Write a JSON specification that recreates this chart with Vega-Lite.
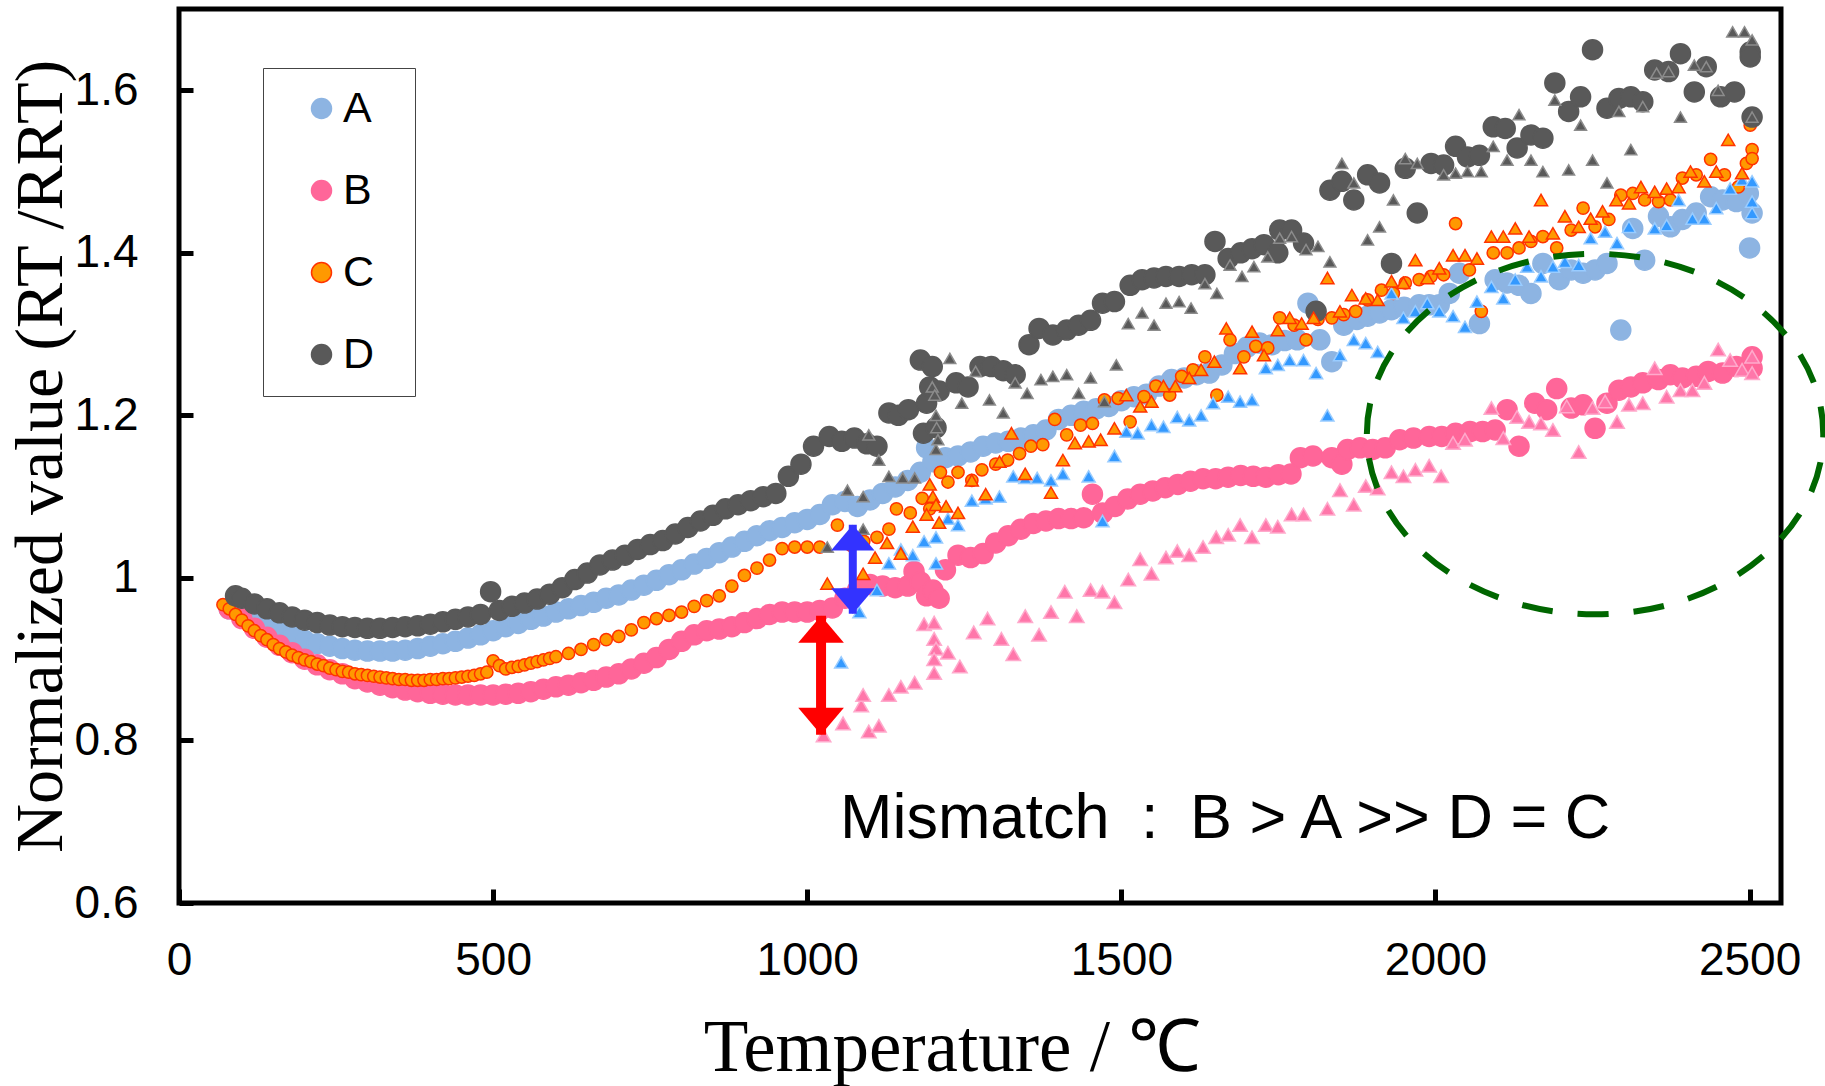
{
"$schema": "https://vega.github.io/schema/vega-lite/v6.json",
"width": 1602, "height": 894,
"autosize": {"type": "none"},
"padding": {"left": 179, "top": 9, "right": 44, "bottom": 183},
"background": "white",
"config": {"view": {"stroke": "#000", "strokeWidth": 5}},
"datasets": {
"pts": [
{"s":"A","x":80,"y":0.962},{"s":"A","x":100,"y":0.955},{"s":"A","x":120,"y":0.947},{"s":"A","x":140,"y":0.94},{"s":"A","x":160,"y":0.934},{"s":"A","x":180,"y":0.928},{"s":"A","x":200,"y":0.923},{"s":"A","x":220,"y":0.919},{"s":"A","x":240,"y":0.916},{"s":"A","x":260,"y":0.913},{"s":"A","x":280,"y":0.911},{"s":"A","x":300,"y":0.91},{"s":"A","x":320,"y":0.91},{"s":"A","x":340,"y":0.91},{"s":"A","x":360,"y":0.911},{"s":"A","x":380,"y":0.913},{"s":"A","x":400,"y":0.916},{"s":"A","x":420,"y":0.919},{"s":"A","x":440,"y":0.922},{"s":"A","x":460,"y":0.926},{"s":"A","x":480,"y":0.93},{"s":"A","x":500,"y":0.935},{"s":"A","x":520,"y":0.94},{"s":"A","x":540,"y":0.944},{"s":"A","x":560,"y":0.949},{"s":"A","x":580,"y":0.953},{"s":"A","x":600,"y":0.958},{"s":"A","x":620,"y":0.962},{"s":"A","x":640,"y":0.966},{"s":"A","x":660,"y":0.97},{"s":"A","x":680,"y":0.975},{"s":"A","x":700,"y":0.979},{"s":"A","x":720,"y":0.985},{"s":"A","x":740,"y":0.991},{"s":"A","x":760,"y":0.997},{"s":"A","x":780,"y":1.004},{"s":"A","x":800,"y":1.01},{"s":"A","x":820,"y":1.017},{"s":"A","x":840,"y":1.024},{"s":"A","x":860,"y":1.031},{"s":"A","x":880,"y":1.038},{"s":"A","x":900,"y":1.045},{"s":"A","x":920,"y":1.052},{"s":"A","x":940,"y":1.058},{"s":"A","x":960,"y":1.062},{"s":"A","x":980,"y":1.068},{"s":"A","x":1000,"y":1.072},{"s":"A","x":1020,"y":1.078},{"s":"A","x":1040,"y":1.09},{"s":"A","x":1060,"y":1.094},{"s":"A","x":1080,"y":1.088},{"s":"A","x":1100,"y":1.096},{"s":"A","x":1120,"y":1.104},{"s":"A","x":1140,"y":1.112},{"s":"A","x":1160,"y":1.12},{"s":"A","x":1180,"y":1.13},{"s":"A","x":1190,"y":1.16},{"s":"A","x":1200,"y":1.143},{"s":"A","x":1220,"y":1.148},{"s":"A","x":1240,"y":1.15},{"s":"A","x":1260,"y":1.155},{"s":"A","x":1280,"y":1.162},{"s":"A","x":1300,"y":1.166},{"s":"A","x":1320,"y":1.168},{"s":"A","x":1340,"y":1.172},{"s":"A","x":1360,"y":1.176},{"s":"A","x":1380,"y":1.182},{"s":"A","x":1400,"y":1.195},{"s":"A","x":1420,"y":1.2},{"s":"A","x":1440,"y":1.205},{"s":"A","x":1460,"y":1.208},{"s":"A","x":1480,"y":1.211},{"s":"A","x":1500,"y":1.218},{"s":"A","x":1520,"y":1.223},{"s":"A","x":1540,"y":1.226},{"s":"A","x":1560,"y":1.236},{"s":"A","x":1580,"y":1.244},{"s":"A","x":1600,"y":1.246},{"s":"A","x":1620,"y":1.25},{"s":"A","x":1640,"y":1.252},{"s":"A","x":1660,"y":1.262},{"s":"A","x":1680,"y":1.276},{"s":"A","x":1700,"y":1.284},{"s":"A","x":1720,"y":1.289},{"s":"A","x":1740,"y":1.287},{"s":"A","x":1760,"y":1.292},{"s":"A","x":1780,"y":1.293},{"s":"A","x":1797,"y":1.338},{"s":"A","x":1816,"y":1.293},{"s":"A","x":1835,"y":1.266},{"s":"A","x":1854,"y":1.311},{"s":"A","x":1875,"y":1.318},{"s":"A","x":1892,"y":1.322},{"s":"A","x":1911,"y":1.326},{"s":"A","x":1930,"y":1.33},{"s":"A","x":1950,"y":1.333},{"s":"A","x":1974,"y":1.336},{"s":"A","x":1990,"y":1.336},{"s":"A","x":2006,"y":1.336},{"s":"A","x":2022,"y":1.35},{"s":"A","x":2038,"y":1.375},{"s":"A","x":2070,"y":1.313},{"s":"A","x":2095,"y":1.367},{"s":"A","x":2114,"y":1.363},{"s":"A","x":2133,"y":1.36},{"s":"A","x":2152,"y":1.35},{"s":"A","x":2171,"y":1.387},{"s":"A","x":2197,"y":1.367},{"s":"A","x":2216,"y":1.379},{"s":"A","x":2235,"y":1.375},{"s":"A","x":2254,"y":1.379},{"s":"A","x":2273,"y":1.387},{"s":"A","x":2295,"y":1.305},{"s":"A","x":2314,"y":1.43},{"s":"A","x":2333,"y":1.391},{"s":"A","x":2355,"y":1.445},{"s":"A","x":2374,"y":1.432},{"s":"A","x":2393,"y":1.441},{"s":"A","x":2415,"y":1.449},{"s":"A","x":2438,"y":1.469},{"s":"A","x":2457,"y":1.465},{"s":"A","x":2479,"y":1.463},{"s":"A","x":2498,"y":1.473},{"s":"A","x":2504,"y":1.449},{"s":"A","x":2500,"y":1.406},
{"s":"B","x":80,"y":0.962},{"s":"B","x":100,"y":0.95},{"s":"B","x":120,"y":0.938},{"s":"B","x":140,"y":0.927},{"s":"B","x":160,"y":0.917},{"s":"B","x":180,"y":0.908},{"s":"B","x":200,"y":0.9},{"s":"B","x":220,"y":0.893},{"s":"B","x":240,"y":0.887},{"s":"B","x":260,"y":0.882},{"s":"B","x":280,"y":0.876},{"s":"B","x":300,"y":0.872},{"s":"B","x":320,"y":0.868},{"s":"B","x":340,"y":0.865},{"s":"B","x":360,"y":0.862},{"s":"B","x":380,"y":0.86},{"s":"B","x":400,"y":0.858},{"s":"B","x":420,"y":0.857},{"s":"B","x":440,"y":0.856},{"s":"B","x":460,"y":0.856},{"s":"B","x":480,"y":0.856},{"s":"B","x":500,"y":0.856},{"s":"B","x":520,"y":0.857},{"s":"B","x":540,"y":0.858},{"s":"B","x":560,"y":0.86},{"s":"B","x":580,"y":0.863},{"s":"B","x":600,"y":0.866},{"s":"B","x":620,"y":0.868},{"s":"B","x":640,"y":0.871},{"s":"B","x":660,"y":0.874},{"s":"B","x":680,"y":0.878},{"s":"B","x":700,"y":0.882},{"s":"B","x":720,"y":0.888},{"s":"B","x":740,"y":0.895},{"s":"B","x":760,"y":0.902},{"s":"B","x":780,"y":0.912},{"s":"B","x":800,"y":0.922},{"s":"B","x":820,"y":0.93},{"s":"B","x":840,"y":0.935},{"s":"B","x":860,"y":0.937},{"s":"B","x":880,"y":0.94},{"s":"B","x":900,"y":0.945},{"s":"B","x":920,"y":0.95},{"s":"B","x":940,"y":0.955},{"s":"B","x":960,"y":0.958},{"s":"B","x":980,"y":0.958},{"s":"B","x":1000,"y":0.958},{"s":"B","x":1020,"y":0.96},{"s":"B","x":1040,"y":0.963},{"s":"B","x":1060,"y":0.975},{"s":"B","x":1080,"y":0.985},{"s":"B","x":1100,"y":0.992},{"s":"B","x":1120,"y":0.99},{"s":"B","x":1140,"y":0.988},{"s":"B","x":1160,"y":0.99},{"s":"B","x":1170,"y":1.008},{"s":"B","x":1180,"y":0.995},{"s":"B","x":1190,"y":0.978},{"s":"B","x":1200,"y":0.985},{"s":"B","x":1210,"y":0.975},{"s":"B","x":1220,"y":1.01},{"s":"B","x":1240,"y":1.028},{"s":"B","x":1260,"y":1.025},{"s":"B","x":1280,"y":1.03},{"s":"B","x":1300,"y":1.043},{"s":"B","x":1320,"y":1.052},{"s":"B","x":1340,"y":1.06},{"s":"B","x":1360,"y":1.067},{"s":"B","x":1380,"y":1.07},{"s":"B","x":1400,"y":1.073},{"s":"B","x":1420,"y":1.073},{"s":"B","x":1440,"y":1.074},{"s":"B","x":1454,"y":1.103},{"s":"B","x":1470,"y":1.08},{"s":"B","x":1490,"y":1.088},{"s":"B","x":1510,"y":1.097},{"s":"B","x":1530,"y":1.103},{"s":"B","x":1550,"y":1.107},{"s":"B","x":1570,"y":1.111},{"s":"B","x":1590,"y":1.115},{"s":"B","x":1610,"y":1.119},{"s":"B","x":1630,"y":1.122},{"s":"B","x":1650,"y":1.122},{"s":"B","x":1670,"y":1.124},{"s":"B","x":1690,"y":1.126},{"s":"B","x":1710,"y":1.125},{"s":"B","x":1730,"y":1.124},{"s":"B","x":1750,"y":1.127},{"s":"B","x":1770,"y":1.128},{"s":"B","x":1785,"y":1.148},{"s":"B","x":1805,"y":1.15},{"s":"B","x":1835,"y":1.148},{"s":"B","x":1851,"y":1.14},{"s":"B","x":1860,"y":1.158},{"s":"B","x":1880,"y":1.16},{"s":"B","x":1900,"y":1.158},{"s":"B","x":1920,"y":1.16},{"s":"B","x":1943,"y":1.17},{"s":"B","x":1965,"y":1.172},{"s":"B","x":1990,"y":1.174},{"s":"B","x":2010,"y":1.174},{"s":"B","x":2032,"y":1.178},{"s":"B","x":2055,"y":1.18},{"s":"B","x":2075,"y":1.18},{"s":"B","x":2095,"y":1.182},{"s":"B","x":2114,"y":1.207},{"s":"B","x":2133,"y":1.162},{"s":"B","x":2158,"y":1.215},{"s":"B","x":2177,"y":1.207},{"s":"B","x":2193,"y":1.233},{"s":"B","x":2216,"y":1.209},{"s":"B","x":2235,"y":1.213},{"s":"B","x":2254,"y":1.184},{"s":"B","x":2273,"y":1.215},{"s":"B","x":2292,"y":1.231},{"s":"B","x":2311,"y":1.235},{"s":"B","x":2330,"y":1.24},{"s":"B","x":2355,"y":1.244},{"s":"B","x":2374,"y":1.25},{"s":"B","x":2393,"y":1.246},{"s":"B","x":2415,"y":1.248},{"s":"B","x":2434,"y":1.254},{"s":"B","x":2457,"y":1.252},{"s":"B","x":2479,"y":1.26},{"s":"B","x":2504,"y":1.272},{"s":"B","x":2504,"y":1.258},
{"s":"C","x":70,"y":0.967},{"s":"C","x":80,"y":0.962},{"s":"C","x":90,"y":0.955},{"s":"C","x":100,"y":0.948},{"s":"C","x":110,"y":0.941},{"s":"C","x":120,"y":0.935},{"s":"C","x":130,"y":0.929},{"s":"C","x":140,"y":0.924},{"s":"C","x":150,"y":0.918},{"s":"C","x":160,"y":0.913},{"s":"C","x":170,"y":0.909},{"s":"C","x":180,"y":0.905},{"s":"C","x":190,"y":0.902},{"s":"C","x":200,"y":0.899},{"s":"C","x":210,"y":0.897},{"s":"C","x":220,"y":0.894},{"s":"C","x":230,"y":0.892},{"s":"C","x":240,"y":0.889},{"s":"C","x":250,"y":0.887},{"s":"C","x":260,"y":0.885},{"s":"C","x":270,"y":0.884},{"s":"C","x":280,"y":0.882},{"s":"C","x":290,"y":0.881},{"s":"C","x":300,"y":0.88},{"s":"C","x":310,"y":0.879},{"s":"C","x":320,"y":0.878},{"s":"C","x":330,"y":0.877},{"s":"C","x":340,"y":0.876},{"s":"C","x":350,"y":0.875},{"s":"C","x":360,"y":0.875},{"s":"C","x":370,"y":0.874},{"s":"C","x":380,"y":0.874},{"s":"C","x":390,"y":0.874},{"s":"C","x":400,"y":0.875},{"s":"C","x":410,"y":0.875},{"s":"C","x":420,"y":0.876},{"s":"C","x":430,"y":0.876},{"s":"C","x":440,"y":0.877},{"s":"C","x":450,"y":0.878},{"s":"C","x":460,"y":0.879},{"s":"C","x":470,"y":0.88},{"s":"C","x":480,"y":0.882},{"s":"C","x":490,"y":0.884},{"s":"C","x":500,"y":0.898},{"s":"C","x":510,"y":0.892},{"s":"C","x":520,"y":0.888},{"s":"C","x":530,"y":0.89},{"s":"C","x":540,"y":0.891},{"s":"C","x":550,"y":0.893},{"s":"C","x":560,"y":0.895},{"s":"C","x":570,"y":0.897},{"s":"C","x":580,"y":0.899},{"s":"C","x":590,"y":0.901},{"s":"C","x":600,"y":0.903},{"s":"C","x":620,"y":0.907},{"s":"C","x":640,"y":0.912},{"s":"C","x":660,"y":0.918},{"s":"C","x":680,"y":0.924},{"s":"C","x":700,"y":0.928},{"s":"C","x":720,"y":0.936},{"s":"C","x":740,"y":0.945},{"s":"C","x":760,"y":0.95},{"s":"C","x":780,"y":0.954},{"s":"C","x":800,"y":0.958},{"s":"C","x":820,"y":0.965},{"s":"C","x":840,"y":0.972},{"s":"C","x":860,"y":0.978},{"s":"C","x":880,"y":0.99},{"s":"C","x":900,"y":1.003},{"s":"C","x":920,"y":1.012},{"s":"C","x":940,"y":1.022},{"s":"C","x":960,"y":1.036},{"s":"C","x":980,"y":1.038},{"s":"C","x":1000,"y":1.038},{"s":"C","x":1020,"y":1.038},{"s":"C","x":1048,"y":1.065},{"s":"C","x":1070,"y":1.04},{"s":"C","x":1090,"y":1.045},{"s":"C","x":1111,"y":1.05},{"s":"C","x":1130,"y":1.06},{"s":"C","x":1142,"y":1.085},{"s":"C","x":1164,"y":1.08},{"s":"C","x":1183,"y":1.098},{"s":"C","x":1195,"y":1.085},{"s":"C","x":1212,"y":1.13},{"s":"C","x":1224,"y":1.118},{"s":"C","x":1240,"y":1.13},{"s":"C","x":1262,"y":1.12},{"s":"C","x":1278,"y":1.133},{"s":"C","x":1300,"y":1.14},{"s":"C","x":1319,"y":1.145},{"s":"C","x":1338,"y":1.153},{"s":"C","x":1356,"y":1.162},{"s":"C","x":1375,"y":1.164},{"s":"C","x":1394,"y":1.195},{"s":"C","x":1413,"y":1.176},{"s":"C","x":1435,"y":1.188},{"s":"C","x":1454,"y":1.19},{"s":"C","x":1473,"y":1.219},{"s":"C","x":1495,"y":1.221},{"s":"C","x":1514,"y":1.192},{"s":"C","x":1536,"y":1.223},{"s":"C","x":1555,"y":1.236},{"s":"C","x":1577,"y":1.225},{"s":"C","x":1596,"y":1.248},{"s":"C","x":1614,"y":1.256},{"s":"C","x":1633,"y":1.272},{"s":"C","x":1652,"y":1.225},{"s":"C","x":1673,"y":1.293},{"s":"C","x":1695,"y":1.272},{"s":"C","x":1714,"y":1.285},{"s":"C","x":1733,"y":1.283},{"s":"C","x":1752,"y":1.32},{"s":"C","x":1775,"y":1.311},{"s":"C","x":1794,"y":1.293},{"s":"C","x":1813,"y":1.318},{"s":"C","x":1835,"y":1.32},{"s":"C","x":1854,"y":1.324},{"s":"C","x":1873,"y":1.328},{"s":"C","x":1892,"y":1.342},{"s":"C","x":1914,"y":1.354},{"s":"C","x":1933,"y":1.35},{"s":"C","x":1952,"y":1.363},{"s":"C","x":1974,"y":1.367},{"s":"C","x":1993,"y":1.371},{"s":"C","x":2013,"y":1.373},{"s":"C","x":2032,"y":1.436},{"s":"C","x":2054,"y":1.379},{"s":"C","x":2073,"y":1.328},{"s":"C","x":2092,"y":1.4},{"s":"C","x":2114,"y":1.4},{"s":"C","x":2133,"y":1.406},{"s":"C","x":2152,"y":1.414},{"s":"C","x":2171,"y":1.42},{"s":"C","x":2193,"y":1.406},{"s":"C","x":2216,"y":1.428},{"s":"C","x":2235,"y":1.455},{"s":"C","x":2254,"y":1.432},{"s":"C","x":2276,"y":1.441},{"s":"C","x":2295,"y":1.471},{"s":"C","x":2314,"y":1.473},{"s":"C","x":2333,"y":1.465},{"s":"C","x":2355,"y":1.463},{"s":"C","x":2374,"y":1.465},{"s":"C","x":2393,"y":1.492},{"s":"C","x":2415,"y":1.496},{"s":"C","x":2438,"y":1.515},{"s":"C","x":2460,"y":1.496},{"s":"C","x":2482,"y":1.481},{"s":"C","x":2495,"y":1.51},{"s":"C","x":2504,"y":1.527},{"s":"C","x":2504,"y":1.516},{"s":"C","x":2501,"y":1.557},
{"s":"D","x":90,"y":0.978},{"s":"D","x":100,"y":0.975},{"s":"D","x":120,"y":0.968},{"s":"D","x":140,"y":0.962},{"s":"D","x":160,"y":0.957},{"s":"D","x":180,"y":0.952},{"s":"D","x":200,"y":0.948},{"s":"D","x":220,"y":0.945},{"s":"D","x":240,"y":0.942},{"s":"D","x":260,"y":0.94},{"s":"D","x":280,"y":0.939},{"s":"D","x":300,"y":0.938},{"s":"D","x":320,"y":0.938},{"s":"D","x":340,"y":0.939},{"s":"D","x":360,"y":0.94},{"s":"D","x":380,"y":0.941},{"s":"D","x":400,"y":0.943},{"s":"D","x":420,"y":0.946},{"s":"D","x":440,"y":0.949},{"s":"D","x":460,"y":0.952},{"s":"D","x":480,"y":0.955},{"s":"D","x":496,"y":0.983},{"s":"D","x":510,"y":0.96},{"s":"D","x":530,"y":0.965},{"s":"D","x":550,"y":0.969},{"s":"D","x":570,"y":0.974},{"s":"D","x":590,"y":0.98},{"s":"D","x":610,"y":0.988},{"s":"D","x":630,"y":0.998},{"s":"D","x":650,"y":1.006},{"s":"D","x":670,"y":1.016},{"s":"D","x":690,"y":1.022},{"s":"D","x":710,"y":1.028},{"s":"D","x":730,"y":1.035},{"s":"D","x":750,"y":1.041},{"s":"D","x":770,"y":1.046},{"s":"D","x":790,"y":1.054},{"s":"D","x":810,"y":1.062},{"s":"D","x":830,"y":1.07},{"s":"D","x":850,"y":1.077},{"s":"D","x":870,"y":1.085},{"s":"D","x":890,"y":1.09},{"s":"D","x":910,"y":1.095},{"s":"D","x":930,"y":1.1},{"s":"D","x":950,"y":1.104},{"s":"D","x":970,"y":1.125},{"s":"D","x":990,"y":1.14},{"s":"D","x":1010,"y":1.162},{"s":"D","x":1035,"y":1.174},{"s":"D","x":1055,"y":1.168},{"s":"D","x":1075,"y":1.172},{"s":"D","x":1095,"y":1.165},{"s":"D","x":1111,"y":1.162},{"s":"D","x":1130,"y":1.203},{"s":"D","x":1145,"y":1.2},{"s":"D","x":1161,"y":1.207},{"s":"D","x":1180,"y":1.268},{"s":"D","x":1185,"y":1.178},{"s":"D","x":1190,"y":1.215},{"s":"D","x":1195,"y":1.235},{"s":"D","x":1199,"y":1.26},{"s":"D","x":1205,"y":1.185},{"s":"D","x":1210,"y":1.23},{"s":"D","x":1237,"y":1.24},{"s":"D","x":1256,"y":1.235},{"s":"D","x":1275,"y":1.26},{"s":"D","x":1293,"y":1.26},{"s":"D","x":1312,"y":1.255},{"s":"D","x":1331,"y":1.25},{"s":"D","x":1353,"y":1.287},{"s":"D","x":1369,"y":1.307},{"s":"D","x":1391,"y":1.299},{"s":"D","x":1413,"y":1.305},{"s":"D","x":1432,"y":1.311},{"s":"D","x":1451,"y":1.317},{"s":"D","x":1470,"y":1.338},{"s":"D","x":1489,"y":1.34},{"s":"D","x":1514,"y":1.36},{"s":"D","x":1533,"y":1.367},{"s":"D","x":1552,"y":1.369},{"s":"D","x":1571,"y":1.371},{"s":"D","x":1592,"y":1.371},{"s":"D","x":1612,"y":1.373},{"s":"D","x":1633,"y":1.373},{"s":"D","x":1649,"y":1.414},{"s":"D","x":1670,"y":1.393},{"s":"D","x":1690,"y":1.4},{"s":"D","x":1708,"y":1.405},{"s":"D","x":1727,"y":1.41},{"s":"D","x":1749,"y":1.4},{"s":"D","x":1752,"y":1.428},{"s":"D","x":1771,"y":1.428},{"s":"D","x":1790,"y":1.412},{"s":"D","x":1810,"y":1.328},{"s":"D","x":1832,"y":1.477},{"s":"D","x":1851,"y":1.488},{"s":"D","x":1870,"y":1.465},{"s":"D","x":1892,"y":1.496},{"s":"D","x":1911,"y":1.486},{"s":"D","x":1930,"y":1.387},{"s":"D","x":1952,"y":1.504},{"s":"D","x":1971,"y":1.449},{"s":"D","x":1993,"y":1.51},{"s":"D","x":2013,"y":1.508},{"s":"D","x":2032,"y":1.531},{"s":"D","x":2051,"y":1.518},{"s":"D","x":2070,"y":1.52},{"s":"D","x":2092,"y":1.555},{"s":"D","x":2111,"y":1.553},{"s":"D","x":2130,"y":1.529},{"s":"D","x":2152,"y":1.545},{"s":"D","x":2171,"y":1.541},{"s":"D","x":2190,"y":1.609},{"s":"D","x":2212,"y":1.574},{"s":"D","x":2231,"y":1.592},{"s":"D","x":2250,"y":1.65},{"s":"D","x":2273,"y":1.578},{"s":"D","x":2292,"y":1.59},{"s":"D","x":2311,"y":1.592},{"s":"D","x":2330,"y":1.586},{"s":"D","x":2349,"y":1.625},{"s":"D","x":2371,"y":1.623},{"s":"D","x":2390,"y":1.645},{"s":"D","x":2412,"y":1.598},{"s":"D","x":2431,"y":1.629},{"s":"D","x":2454,"y":1.592},{"s":"D","x":2476,"y":1.598},{"s":"D","x":2501,"y":1.647},{"s":"D","x":2501,"y":1.641},{"s":"D","x":2504,"y":1.567},
{"s":"At","x":1054,"y":0.896},{"s":"At","x":1083,"y":0.958},{"s":"At","x":1111,"y":0.985},{"s":"At","x":1130,"y":1.018},{"s":"At","x":1149,"y":1.035},{"s":"At","x":1168,"y":1.028},{"s":"At","x":1186,"y":1.045},{"s":"At","x":1205,"y":1.05},{"s":"At","x":1205,"y":1.018},{"s":"At","x":1224,"y":1.073},{"s":"At","x":1240,"y":1.065},{"s":"At","x":1262,"y":1.095},{"s":"At","x":1284,"y":1.098},{"s":"At","x":1306,"y":1.1},{"s":"At","x":1328,"y":1.125},{"s":"At","x":1347,"y":1.123},{"s":"At","x":1366,"y":1.123},{"s":"At","x":1388,"y":1.12},{"s":"At","x":1407,"y":1.128},{"s":"At","x":1448,"y":1.125},{"s":"At","x":1470,"y":1.07},{"s":"At","x":1489,"y":1.15},{"s":"At","x":1508,"y":1.18},{"s":"At","x":1526,"y":1.178},{"s":"At","x":1548,"y":1.188},{"s":"At","x":1567,"y":1.186},{"s":"At","x":1589,"y":1.198},{"s":"At","x":1608,"y":1.194},{"s":"At","x":1627,"y":1.2},{"s":"At","x":1646,"y":1.215},{"s":"At","x":1670,"y":1.223},{"s":"At","x":1689,"y":1.217},{"s":"At","x":1708,"y":1.219},{"s":"At","x":1730,"y":1.258},{"s":"At","x":1749,"y":1.262},{"s":"At","x":1768,"y":1.268},{"s":"At","x":1790,"y":1.268},{"s":"At","x":1810,"y":1.252},{"s":"At","x":1828,"y":1.2},{"s":"At","x":1848,"y":1.274},{"s":"At","x":1870,"y":1.293},{"s":"At","x":1889,"y":1.289},{"s":"At","x":1908,"y":1.278},{"s":"At","x":1930,"y":1.35},{"s":"At","x":1949,"y":1.32},{"s":"At","x":1968,"y":1.328},{"s":"At","x":1987,"y":1.338},{"s":"At","x":2006,"y":1.328},{"s":"At","x":2028,"y":1.322},{"s":"At","x":2047,"y":1.309},{"s":"At","x":2066,"y":1.34},{"s":"At","x":2089,"y":1.358},{"s":"At","x":2108,"y":1.344},{"s":"At","x":2127,"y":1.367},{"s":"At","x":2146,"y":1.383},{"s":"At","x":2168,"y":1.371},{"s":"At","x":2187,"y":1.383},{"s":"At","x":2206,"y":1.389},{"s":"At","x":2228,"y":1.385},{"s":"At","x":2247,"y":1.418},{"s":"At","x":2270,"y":1.426},{"s":"At","x":2289,"y":1.412},{"s":"At","x":2308,"y":1.432},{"s":"At","x":2349,"y":1.43},{"s":"At","x":2368,"y":1.434},{"s":"At","x":2387,"y":1.465},{"s":"At","x":2409,"y":1.442},{"s":"At","x":2428,"y":1.442},{"s":"At","x":2447,"y":1.455},{"s":"At","x":2469,"y":1.479},{"s":"At","x":2488,"y":1.49},{"s":"At","x":2504,"y":1.488},{"s":"At","x":2504,"y":1.463},{"s":"At","x":2504,"y":1.449},
{"s":"Bt","x":1026,"y":0.806},{"s":"Bt","x":1057,"y":0.821},{"s":"Bt","x":1086,"y":0.843},{"s":"Bt","x":1089,"y":0.856},{"s":"Bt","x":1098,"y":0.811},{"s":"Bt","x":1114,"y":0.818},{"s":"Bt","x":1130,"y":0.856},{"s":"Bt","x":1149,"y":0.866},{"s":"Bt","x":1171,"y":0.871},{"s":"Bt","x":1186,"y":0.943},{"s":"Bt","x":1202,"y":0.945},{"s":"Bt","x":1202,"y":0.925},{"s":"Bt","x":1205,"y":0.913},{"s":"Bt","x":1202,"y":0.9},{"s":"Bt","x":1202,"y":0.883},{"s":"Bt","x":1224,"y":0.908},{"s":"Bt","x":1243,"y":0.891},{"s":"Bt","x":1265,"y":0.933},{"s":"Bt","x":1287,"y":0.95},{"s":"Bt","x":1309,"y":0.925},{"s":"Bt","x":1328,"y":0.906},{"s":"Bt","x":1347,"y":0.953},{"s":"Bt","x":1369,"y":0.93},{"s":"Bt","x":1388,"y":0.958},{"s":"Bt","x":1410,"y":0.983},{"s":"Bt","x":1429,"y":0.953},{"s":"Bt","x":1451,"y":0.985},{"s":"Bt","x":1470,"y":0.983},{"s":"Bt","x":1489,"y":0.97},{"s":"Bt","x":1511,"y":0.998},{"s":"Bt","x":1530,"y":1.023},{"s":"Bt","x":1548,"y":1.005},{"s":"Bt","x":1571,"y":1.025},{"s":"Bt","x":1589,"y":1.033},{"s":"Bt","x":1608,"y":1.028},{"s":"Bt","x":1630,"y":1.038},{"s":"Bt","x":1651,"y":1.05},{"s":"Bt","x":1670,"y":1.053},{"s":"Bt","x":1689,"y":1.065},{"s":"Bt","x":1708,"y":1.05},{"s":"Bt","x":1730,"y":1.065},{"s":"Bt","x":1749,"y":1.063},{"s":"Bt","x":1771,"y":1.078},{"s":"Bt","x":1790,"y":1.078},{"s":"Bt","x":1828,"y":1.085},{"s":"Bt","x":1848,"y":1.108},{"s":"Bt","x":1870,"y":1.09},{"s":"Bt","x":1889,"y":1.113},{"s":"Bt","x":1908,"y":1.11},{"s":"Bt","x":1930,"y":1.13},{"s":"Bt","x":1949,"y":1.125},{"s":"Bt","x":1968,"y":1.133},{"s":"Bt","x":1990,"y":1.138},{"s":"Bt","x":2009,"y":1.125},{"s":"Bt","x":2028,"y":1.166},{"s":"Bt","x":2047,"y":1.17},{"s":"Bt","x":2089,"y":1.209},{"s":"Bt","x":2108,"y":1.172},{"s":"Bt","x":2130,"y":1.198},{"s":"Bt","x":2149,"y":1.192},{"s":"Bt","x":2168,"y":1.19},{"s":"Bt","x":2187,"y":1.182},{"s":"Bt","x":2209,"y":1.211},{"s":"Bt","x":2228,"y":1.155},{"s":"Bt","x":2250,"y":1.209},{"s":"Bt","x":2270,"y":1.217},{"s":"Bt","x":2289,"y":1.192},{"s":"Bt","x":2308,"y":1.213},{"s":"Bt","x":2330,"y":1.215},{"s":"Bt","x":2349,"y":1.258},{"s":"Bt","x":2368,"y":1.223},{"s":"Bt","x":2390,"y":1.231},{"s":"Bt","x":2409,"y":1.231},{"s":"Bt","x":2428,"y":1.24},{"s":"Bt","x":2450,"y":1.281},{"s":"Bt","x":2469,"y":1.268},{"s":"Bt","x":2488,"y":1.256},{"s":"Bt","x":2504,"y":1.272},{"s":"Bt","x":2504,"y":1.252},
{"s":"Ct","x":1032,"y":0.993},{"s":"Ct","x":1089,"y":1.005},{"s":"Ct","x":1108,"y":1.025},{"s":"Ct","x":1127,"y":1.043},{"s":"Ct","x":1149,"y":1.03},{"s":"Ct","x":1168,"y":1.063},{"s":"Ct","x":1190,"y":1.078},{"s":"Ct","x":1195,"y":1.115},{"s":"Ct","x":1200,"y":1.1},{"s":"Ct","x":1205,"y":1.09},{"s":"Ct","x":1210,"y":1.068},{"s":"Ct","x":1221,"y":1.088},{"s":"Ct","x":1240,"y":1.08},{"s":"Ct","x":1262,"y":1.12},{"s":"Ct","x":1284,"y":1.103},{"s":"Ct","x":1306,"y":1.143},{"s":"Ct","x":1325,"y":1.178},{"s":"Ct","x":1347,"y":1.128},{"s":"Ct","x":1388,"y":1.105},{"s":"Ct","x":1407,"y":1.145},{"s":"Ct","x":1426,"y":1.166},{"s":"Ct","x":1448,"y":1.168},{"s":"Ct","x":1467,"y":1.17},{"s":"Ct","x":1489,"y":1.184},{"s":"Ct","x":1508,"y":1.225},{"s":"Ct","x":1530,"y":1.211},{"s":"Ct","x":1548,"y":1.217},{"s":"Ct","x":1567,"y":1.236},{"s":"Ct","x":1586,"y":1.236},{"s":"Ct","x":1608,"y":1.246},{"s":"Ct","x":1627,"y":1.256},{"s":"Ct","x":1648,"y":1.266},{"s":"Ct","x":1667,"y":1.307},{"s":"Ct","x":1689,"y":1.258},{"s":"Ct","x":1708,"y":1.303},{"s":"Ct","x":1727,"y":1.274},{"s":"Ct","x":1749,"y":1.305},{"s":"Ct","x":1768,"y":1.32},{"s":"Ct","x":1787,"y":1.313},{"s":"Ct","x":1806,"y":1.32},{"s":"Ct","x":1828,"y":1.369},{"s":"Ct","x":1848,"y":1.328},{"s":"Ct","x":1867,"y":1.348},{"s":"Ct","x":1889,"y":1.344},{"s":"Ct","x":1908,"y":1.342},{"s":"Ct","x":1930,"y":1.365},{"s":"Ct","x":1949,"y":1.363},{"s":"Ct","x":1968,"y":1.391},{"s":"Ct","x":1987,"y":1.369},{"s":"Ct","x":2006,"y":1.381},{"s":"Ct","x":2028,"y":1.397},{"s":"Ct","x":2047,"y":1.397},{"s":"Ct","x":2066,"y":1.393},{"s":"Ct","x":2089,"y":1.42},{"s":"Ct","x":2108,"y":1.42},{"s":"Ct","x":2127,"y":1.43},{"s":"Ct","x":2149,"y":1.42},{"s":"Ct","x":2168,"y":1.465},{"s":"Ct","x":2187,"y":1.424},{"s":"Ct","x":2206,"y":1.445},{"s":"Ct","x":2228,"y":1.432},{"s":"Ct","x":2247,"y":1.442},{"s":"Ct","x":2266,"y":1.451},{"s":"Ct","x":2288,"y":1.465},{"s":"Ct","x":2308,"y":1.461},{"s":"Ct","x":2327,"y":1.481},{"s":"Ct","x":2349,"y":1.475},{"s":"Ct","x":2368,"y":1.479},{"s":"Ct","x":2387,"y":1.481},{"s":"Ct","x":2406,"y":1.5},{"s":"Ct","x":2428,"y":1.488},{"s":"Ct","x":2447,"y":1.5},{"s":"Ct","x":2466,"y":1.539},{"s":"Ct","x":2488,"y":1.498},
{"s":"Dt","x":1032,"y":1.038},{"s":"Dt","x":1064,"y":1.108},{"s":"Dt","x":1089,"y":1.1},{"s":"Dt","x":1089,"y":1.06},{"s":"Dt","x":1098,"y":1.176},{"s":"Dt","x":1114,"y":1.145},{"s":"Dt","x":1130,"y":1.125},{"s":"Dt","x":1152,"y":1.123},{"s":"Dt","x":1171,"y":1.123},{"s":"Dt","x":1199,"y":1.235},{"s":"Dt","x":1203,"y":1.225},{"s":"Dt","x":1205,"y":1.2},{"s":"Dt","x":1205,"y":1.158},{"s":"Dt","x":1206,"y":1.185},{"s":"Dt","x":1208,"y":1.17},{"s":"Dt","x":1227,"y":1.27},{"s":"Dt","x":1246,"y":1.215},{"s":"Dt","x":1268,"y":1.254},{"s":"Dt","x":1290,"y":1.219},{"s":"Dt","x":1312,"y":1.203},{"s":"Dt","x":1331,"y":1.24},{"s":"Dt","x":1350,"y":1.227},{"s":"Dt","x":1372,"y":1.244},{"s":"Dt","x":1391,"y":1.248},{"s":"Dt","x":1413,"y":1.25},{"s":"Dt","x":1432,"y":1.227},{"s":"Dt","x":1451,"y":1.246},{"s":"Dt","x":1473,"y":1.217},{"s":"Dt","x":1492,"y":1.262},{"s":"Dt","x":1511,"y":1.313},{"s":"Dt","x":1533,"y":1.326},{"s":"Dt","x":1552,"y":1.311},{"s":"Dt","x":1571,"y":1.338},{"s":"Dt","x":1592,"y":1.34},{"s":"Dt","x":1611,"y":1.332},{"s":"Dt","x":1633,"y":1.362},{"s":"Dt","x":1652,"y":1.35},{"s":"Dt","x":1673,"y":1.385},{"s":"Dt","x":1692,"y":1.371},{"s":"Dt","x":1711,"y":1.383},{"s":"Dt","x":1733,"y":1.395},{"s":"Dt","x":1752,"y":1.418},{"s":"Dt","x":1771,"y":1.42},{"s":"Dt","x":1794,"y":1.404},{"s":"Dt","x":1813,"y":1.408},{"s":"Dt","x":1832,"y":1.389},{"s":"Dt","x":1851,"y":1.51},{"s":"Dt","x":1870,"y":1.486},{"s":"Dt","x":1892,"y":1.416},{"s":"Dt","x":1911,"y":1.432},{"s":"Dt","x":1933,"y":1.465},{"s":"Dt","x":1952,"y":1.516},{"s":"Dt","x":1971,"y":1.51},{"s":"Dt","x":2013,"y":1.496},{"s":"Dt","x":2032,"y":1.498},{"s":"Dt","x":2051,"y":1.5},{"s":"Dt","x":2073,"y":1.5},{"s":"Dt","x":2092,"y":1.531},{"s":"Dt","x":2114,"y":1.514},{"s":"Dt","x":2133,"y":1.57},{"s":"Dt","x":2152,"y":1.514},{"s":"Dt","x":2171,"y":1.5},{"s":"Dt","x":2190,"y":1.588},{"s":"Dt","x":2212,"y":1.502},{"s":"Dt","x":2231,"y":1.557},{"s":"Dt","x":2250,"y":1.514},{"s":"Dt","x":2273,"y":1.486},{"s":"Dt","x":2292,"y":1.574},{"s":"Dt","x":2311,"y":1.527},{"s":"Dt","x":2330,"y":1.58},{"s":"Dt","x":2352,"y":1.621},{"s":"Dt","x":2371,"y":1.623},{"s":"Dt","x":2390,"y":1.567},{"s":"Dt","x":2412,"y":1.631},{"s":"Dt","x":2431,"y":1.629},{"s":"Dt","x":2450,"y":1.6},{"s":"Dt","x":2473,"y":1.672},{"s":"Dt","x":2492,"y":1.672},{"s":"Dt","x":2504,"y":1.662},{"s":"Dt","x":2504,"y":1.567}
],
"shafts": [{"a":"red","x":1022,"y":0.807,"y2":0.9534},{"a":"blue","x":1072.5,"y":0.9558,"y2":1.0653}],
"heads": [{"a":"red","d":"up","x":1022,"y":0.9534},{"a":"red","d":"down","x":1022,"y":0.807},{"a":"blue","d":"up","x":1072.5,"y":1.0653},{"a":"blue","d":"down","x":1072.5,"y":0.9558}]
},
"encoding": {
"x": {"field": "x", "type": "quantitative", "scale": {"domain": [0, 2550], "nice": false, "zero": false},
 "axis": {"values": [0,500,1000,1500,2000,2500], "format": "d", "labelFont": "Liberation Sans", "labelFontSize": 46, "labelColor": "#000", "labelPadding": 49, "labelFlush": false, "labelOverlap": false, "tickSize": -14, "tickWidth": 5, "tickColor": "#000", "domain": false, "grid": false,
  "title": "Temperature / ℃", "titleFont": "Liberation Serif", "titleFontSize": 73, "titleFontWeight": "normal", "titleColor": "#000", "titleX": 773, "titleY": 167, "titleBaseline": "alphabetic", "titleAlign": "center"}},
"y": {"field": "y", "type": "quantitative", "scale": {"domain": [0.6, 1.7], "nice": false, "zero": false},
 "axis": {"values": [0.6,0.8,1,1.2,1.4,1.6], "format": "~g", "labelFont": "Liberation Sans", "labelFontSize": 46, "labelColor": "#000", "labelPadding": 55, "labelFlush": false, "labelOverlap": false, "tickSize": -14, "tickWidth": 5, "tickColor": "#000", "domain": false, "grid": false,
  "title": "Normalized value (RT /RRT)", "titleFont": "Liberation Serif", "titleFontSize": 68, "titleFontWeight": "normal", "titleColor": "#000", "titleX": -118, "titleY": 447, "titleBaseline": "alphabetic", "titleAlign": "center", "titleAngle": 270}}
},
"layer": [
{"data": {"name": "pts"},
 "mark": {"type": "point", "filled": true, "opacity": 1, "strokeWidth": 1.5},
 "encoding": {
  "fill": {"field": "s", "type": "nominal",
   "scale": {"domain": ["A","B","C","D","At","Bt","Ct","Dt"], "range": ["#8db4e2","#ff6699","#ff9900","#595959","#3399ff","#ff77aa","#ff9900","#595959"]},
   "legend": {"values": ["A","B","C","D"], "title": " ", "titleOrient": "right", "titlePadding": 22, "titleFontSize": 2, "orient": "none", "legendX": 84, "legendY": 59, "direction": "vertical",
    "padding": 19, "rowPadding": 38, "symbolOffset": 18, "labelOffset": 0, "labelFont": "Liberation Sans", "labelFontSize": 43, "labelColor": "#000",
    "strokeColor": "#444", "fillColor": "#fff", "symbolSize": 400, "symbolStrokeWidth": 1.5,
    "encode": {"symbols": {"size": {"value": {"expr": "datum.value === 'C' ? 130 : 400"}}}}}},
  "stroke": {"field": "s", "type": "nominal",
   "scale": {"domain": ["A","B","C","D","At","Bt","Ct","Dt"], "range": ["#8db4e2","#ff6699","#ff3300","#595959","#99ccff","#ffaacc","#ff3300","#8c8c8c"]}},
  "shape": {"field": "s", "type": "nominal",
   "scale": {"domain": ["A","B","C","D","At","Bt","Ct","Dt"], "range": ["circle","circle","circle","circle","triangle-up","triangle-up","triangle-up","triangle-up"]}},
  "size": {"condition": [{"test": "datum.s === 'C'", "value": 150}, {"test": "datum.s === 'At' || datum.s === 'Ct'", "value": 170}, {"test": "datum.s === 'Bt'", "value": 210}, {"test": "datum.s === 'Dt'", "value": 140}], "value": 400}
 }},
{"data": {"values": [{"x": 2254, "y": 1.177}]},
 "mark": {"type": "point", "shape": "M-1,0C-1,-0.4363,-0.5523,-0.79,0,-0.79C0.5523,-0.79,1,-0.4363,1,0C1,0.4363,0.5523,0.79,0,0.79C-0.5523,0.79,-1,0.4363,-1,0Z", "size": 208300, "filled": false, "stroke": "#006600", "strokeWidth": 6, "strokeDash": [31, 25], "opacity": 1}},
{"data": {"name": "shafts"},
 "mark": {"type": "rule", "strokeCap": "butt", "opacity": 1},
 "encoding": {"y2": {"field": "y2"},
  "color": {"condition": {"test": "datum.a === 'red'", "value": "#ff0000"}, "value": "#3333ff"},
  "strokeWidth": {"condition": {"test": "datum.a === 'red'", "value": 10}, "value": 8}}},
{"data": {"name": "heads"},
 "mark": {"type": "point", "filled": true, "opacity": 1, "strokeWidth": 0},
 "encoding": {
  "shape": {"condition": {"test": "datum.d === 'up'", "value": "M0,0L1,1.18L-1,1.18Z"}, "value": "M0,0L1,-1.18L-1,-1.18Z"},
  "fill": {"condition": {"test": "datum.a === 'red'", "value": "#ff0000"}, "value": "#3333ff"},
  "size": {"condition": {"test": "datum.a === 'red'", "value": 2088}, "value": 1892}}},
{"data": {"values": [{"x": 1052, "y": 0.68, "t": "Mismatch\u2002:\u2002B > A >> D = C"}]},
 "mark": {"type": "text", "align": "left", "baseline": "alphabetic", "font": "Liberation Sans, DejaVu Sans", "fontSize": 63, "color": "#000"},
 "encoding": {"text": {"field": "t"}}}
]
}
